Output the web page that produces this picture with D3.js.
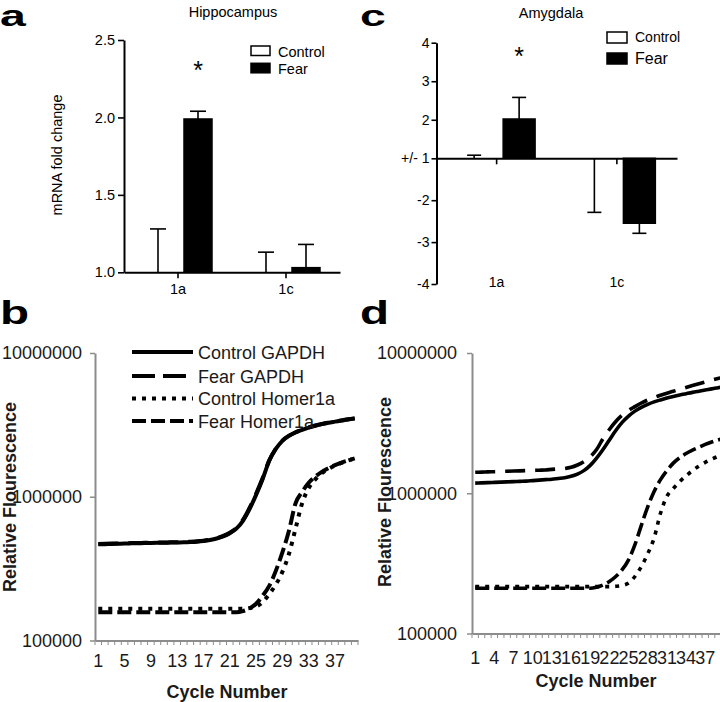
<!DOCTYPE html>
<html><head><meta charset="utf-8">
<script src="https://cdn.jsdelivr.net/npm/d3@7/dist/d3.min.js"></script>
<style>
body{margin:0;background:#fff}
svg{display:block;font-family:"Liberation Sans",Arial,Helvetica,sans-serif}
</style>
</head><body>
<svg id="chart" width="720" height="702"></svg>
<script>
// ---------------- DATA ----------------
const barCategories = ["1a", "1c"];
const barSeries = ["Control", "Fear"];

// a: Hippocampus (mRNA fold change)
const hippControl = [1.00, 1.00];
const hippControlErr = [0.28, 0.13];
const hippFear = [1.99, 1.03];
const hippFearErr = [0.05, 0.15];
const hippTicks = [1.0, 1.5, 2.0, 2.5];

// c: Amygdala (+/- fold change)
const amygControl = [1.00, -1.00];
const amygControlErr = [0.08, 1.29];
const amygFear = [2.02, -2.55];
const amygFearErr = [0.56, 0.24];
const amygTicks = [4, 3, 2, 1, -2, -3, -4];
const amygTickLabels = ["4", "3", "2", "+/- 1", "-2", "-3", "-4"];

// b, d: amplification curves (relative fluorescence, in thousands)
const cycles = [1,2,3,4,5,6,7,8,9,10,11,12,13,14,15,16,17,18,19,20,21,22,23,24,25,26,27,28,29,30,31,32,33,34,35,36,37,38,39,40];
const cycleTicksB = [1, 5, 9, 13, 17, 21, 25, 29, 33, 37];
const cycleTicksD = [1, 4, 7, 10, 13, 16, 19, 22, 25, 28, 31, 34, 37];
const fluorTicks = [100000, 1000000, 10000000];
const curveNames = ["Control GAPDH", "Fear GAPDH", "Control Homer1a", "Fear Homer1a"];

const hipCtrlGAPDH = [467,468,470,471,472,474,475,476,477,478,479,480,481,482,484,487,492,500,512,530,558,600,680,820,1030,1330,1780,2150,2450,2650,2800,2920,3030,3120,3200,3270,3330,3390,3450,3500];
const hipFearGAPDH = [470,471,472,473,474,476,477,478,479,480,481,482,483,485,487,490,495,503,515,534,562,605,690,835,1050,1350,1790,2160,2460,2660,2810,2930,3040,3130,3210,3280,3340,3400,3460,3510];
const hipCtrlHomer = [166,166,166,166,166,166,166,166,166,166,166,166,166,166,166,166,166,166,166,166,166,166,166,168,172,185,210,245,300,400,600,900,1150,1320,1460,1560,1650,1720,1790,1850];
const hipFearHomer = [157,157,157,157,157,157,157,157,157,157,157,157,157,157,157,157,157,157,157,157,157,157,160,167,180,205,240,305,410,580,900,1080,1250,1380,1490,1580,1660,1730,1790,1850];

const amyCtrlGAPDH = [1180,1185,1190,1195,1200,1205,1210,1215,1220,1230,1240,1250,1260,1275,1290,1320,1370,1450,1580,1780,2050,2400,2800,3200,3550,3850,4100,4300,4480,4630,4770,4900,5020,5130,5240,5340,5440,5550,5650,5750];
const amyFearGAPDH = [1410,1415,1420,1425,1430,1435,1440,1445,1450,1455,1460,1465,1480,1490,1500,1530,1590,1680,1820,2050,2450,2850,3250,3600,3900,4150,4400,4620,4820,5000,5170,5330,5500,5680,5860,6040,6220,6400,6580,6750];
const amyCtrlHomer = [216,216,216,216,216,216,216,216,216,216,216,216,216,216,216,216,216,216,216,216,216,216,217,220,229,255,300,370,480,720,950,1080,1210,1330,1450,1560,1660,1750,1830,1900];
const amyFearHomer = [210,210,210,210,210,210,210,210,210,210,210,210,210,210,210,210,210,210,210,214,222,235,255,285,335,430,590,800,1030,1250,1450,1640,1790,1920,2030,2130,2230,2320,2400,2480];

// ---------------- DRAWING ----------------
const svg = d3.select("#chart");
svg.append("rect").attr("width", 720).attr("height", 702).attr("fill", "#fff");

function panelLabel(txt, x, y, size, sx) {
  svg.append("text").attr("transform", `translate(${x},${y}) scale(${sx},1)`)
    .attr("font-size", size).attr("font-weight", "bold").attr("fill", "#000").text(txt);
}
panelLabel("a", 0, 26, 29, 1.6);
panelLabel("c", 360, 26, 29, 1.6);
panelLabel("b", 0, 324, 34, 1.4);
panelLabel("d", 360, 324, 34, 1.4);

// ----- Panel a -----
(function () {
  const g = svg.append("g");
  const fs = 14.5;
  const x0 = d3.scaleBand().domain(barCategories).range([124, 340]);
  const x1 = d3.scaleBand().domain(barSeries).range([-40, 40]).paddingInner(0.3).paddingOuter(0.15);
  const y = d3.scaleLinear().domain([1, 2.5]).range([272.3, 40]);
  const cx = (c, s) => x0(c) + x0.bandwidth() / 2 + x1(s);
  const vals = { Control: hippControl, Fear: hippFear };
  const errs = { Control: hippControlErr, Fear: hippFearErr };

  barSeries.forEach(s => {
    barCategories.forEach((c, i) => {
      const v = vals[s][i];
      g.append("rect").attr("x", cx(c, s)).attr("width", x1.bandwidth())
        .attr("y", y(v)).attr("height", Math.max(0, y(1) - y(v)))
        .attr("fill", s === "Fear" ? "#000" : "#fff").attr("stroke", "#000").attr("stroke-width", 1.5);
      const xm = cx(c, s) + x1.bandwidth() / 2;
      const top = v + errs[s][i];
      g.append("line").attr("x1", xm).attr("x2", xm).attr("y1", y(v)).attr("y2", y(top))
        .attr("stroke", "#000").attr("stroke-width", 1.6);
      g.append("line").attr("x1", xm - 8).attr("x2", xm + 8).attr("y1", y(top)).attr("y2", y(top))
        .attr("stroke", "#000").attr("stroke-width", 1.6);
    });
  });

  const ya = g.append("g").attr("transform", "translate(124,0)")
    .call(d3.axisLeft(y).tickValues(hippTicks).tickFormat(d3.format(".1f")).tickSize(6).tickSizeOuter(0).tickPadding(3));
  const xa = g.append("g").attr("transform", `translate(0,${y(1)})`)
    .call(d3.axisBottom(x0).tickSize(6).tickSizeOuter(0).tickPadding(5));
  [ya, xa].forEach(a => {
    a.select(".domain").attr("stroke", "#000").attr("stroke-width", 2);
    a.selectAll(".tick line").attr("stroke", "#000").attr("stroke-width", 1.6);
    a.selectAll("text").attr("font-size", fs).attr("fill", "#000").attr("font-family", null);
  });

  g.append("text").attr("x", 233).attr("y", 17).attr("text-anchor", "middle").attr("font-size", fs).text("Hippocampus");
  g.append("text").attr("transform", "translate(62,155) rotate(-90)").attr("text-anchor", "middle")
    .attr("font-size", fs).text("mRNA fold change");
  g.append("text").attr("x", cx("1a", "Fear") + x1.bandwidth() / 2).attr("y", 79).attr("text-anchor", "middle")
    .attr("font-size", 25).text("*");

  const lg = [["Control", "#fff", 46, 56.7], ["Fear", "#000", 63.3, 74]];
  lg.forEach(([t, f, by, ty]) => {
    g.append("rect").attr("x", 251).attr("y", by).attr("width", 19).attr("height", 9.5)
      .attr("fill", f).attr("stroke", "#000").attr("stroke-width", 1.5);
    g.append("text").attr("x", 278).attr("y", ty).attr("font-size", fs).text(t);
  });
})();

// ----- Panel c -----
(function () {
  const g = svg.append("g");
  const fs = 14;
  const fc = v => (v >= 1 ? v - 1 : v + 1); // +/- fold change to linear position
  const x0 = d3.scaleBand().domain(barCategories).range([436.5, 677]);
  const x1 = d3.scaleBand().domain(barSeries).range([-45, 45]).paddingInner(0.29).paddingOuter(0.145);
  const y = d3.scaleLinear().domain([-3, 0, 3]).range([284, 158.3, 42.7]);
  const cx = (c, s) => x0(c) + x0.bandwidth() / 2 + x1(s);
  const vals = { Control: amygControl, Fear: amygFear };
  const errs = { Control: amygControlErr, Fear: amygFearErr };

  barSeries.forEach(s => {
    barCategories.forEach((c, i) => {
      const v = vals[s][i];
      const p = fc(v);
      g.append("rect").attr("x", cx(c, s)).attr("width", x1.bandwidth())
        .attr("y", Math.min(y(p), y(0))).attr("height", Math.abs(y(p) - y(0)))
        .attr("fill", s === "Fear" ? "#000" : "#fff").attr("stroke", "#000").attr("stroke-width", 1.5);
      const xm = cx(c, s) + x1.bandwidth() / 2;
      const end = v > 0 ? v + errs[s][i] : v - errs[s][i];
      g.append("line").attr("x1", xm).attr("x2", xm).attr("y1", y(p)).attr("y2", y(fc(end)))
        .attr("stroke", "#000").attr("stroke-width", 1.6);
      g.append("line").attr("x1", xm - 7).attr("x2", xm + 7).attr("y1", y(fc(end))).attr("y2", y(fc(end)))
        .attr("stroke", "#000").attr("stroke-width", 1.6);
    });
  });

  const ya = g.append("g").attr("transform", "translate(436.5,0)")
    .call(d3.axisLeft(y).tickValues(amygTicks.map(fc)).tickFormat((d, i) => amygTickLabels[i])
      .tickSize(5).tickSizeOuter(0).tickPadding(2));
  ya.select(".domain").attr("stroke", "#000").attr("stroke-width", 2);
  ya.selectAll(".tick line").attr("stroke", "#000").attr("stroke-width", 1.6);
  ya.selectAll("text").attr("font-size", fs).attr("fill", "#000").attr("font-family", null);

  const xa = g.append("g").attr("transform", `translate(0,${y(0)})`)
    .call(d3.axisBottom(x0).tickSize(6).tickSizeOuter(0).tickFormat(""));
  xa.select(".domain").attr("stroke", "#000").attr("stroke-width", 2);
  xa.selectAll(".tick line").attr("stroke", "#000").attr("stroke-width", 1.6);
  barCategories.forEach(c => {
    g.append("text").attr("x", x0(c) + x0.bandwidth() / 2).attr("y", 287).attr("text-anchor", "middle")
      .attr("font-size", fs).text(c);
  });

  g.append("text").attr("x", 551).attr("y", 18).attr("text-anchor", "middle").attr("font-size", 14.5).text("Amygdala");
  g.append("text").attr("x", cx("1a", "Fear") + x1.bandwidth() / 2).attr("y", 65).attr("text-anchor", "middle")
    .attr("font-size", 25).text("*");

  const lg = [["Control", "#fff", 32, 42, 14], ["Fear", "#000", 53, 63.5, 16]];
  lg.forEach(([t, f, by, ty, s]) => {
    g.append("rect").attr("x", 607).attr("y", by).attr("width", 20).attr("height", 11)
      .attr("fill", f).attr("stroke", "#000").attr("stroke-width", 1.5);
    g.append("text").attr("x", 635).attr("y", ty).attr("font-size", s).text(t);
  });
})();

// ----- Curve panels b, d -----
const curveStyles = {
  "Control GAPDH": null,
  "Fear GAPDH": "20,10",
  "Control Homer1a": "4,6",
  "Fear Homer1a": "14,5"
};

function curvePanel(opt) {
  const g = svg.append("g");
  const fs = 18, txt = "#1a1a1a", axisCol = "#8c8c8c";
  const x = d3.scaleBand().domain(cycles).range([opt.x0, opt.x0 + cycles.length * opt.step]);
  const y = d3.scaleLog().domain([1e5, 1e7]).range([opt.yBot, 353]);
  const bw = x.bandwidth();

  const line = d3.line().x((v, i) => x(cycles[i]) + bw / 2).y(v => y(v * 1000)).curve(d3.curveMonotoneX);
  opt.series.forEach((arr, k) => {
    const name = curveNames[k];
    g.append("path").attr("d", line(arr)).attr("fill", "none").attr("stroke", "#000")
      .attr("stroke-width", opt.lw).attr("stroke-dasharray", curveStyles[name]);
  });

  const ya = g.append("g").attr("transform", `translate(${opt.x0},0)`)
    .call(d3.axisLeft(y).tickValues(fluorTicks).tickFormat(d3.format("d")).tickSize(5).tickSizeOuter(0).tickPadding(opt.yPad));
  const xa = g.append("g").attr("transform", `translate(0,${opt.yBot})`)
    .call(d3.axisBottom(x).tickValues(opt.xTicks).tickSize(0).tickSizeOuter(0).tickPadding(opt.xPad));
  [ya, xa].forEach(a => {
    a.select(".domain").attr("stroke", axisCol).attr("stroke-width", 2);
    a.selectAll(".tick line").attr("stroke", axisCol).attr("stroke-width", 1.5);
    a.selectAll("text").attr("font-size", fs).attr("fill", txt).attr("font-family", null);
  });
  const edges = cycles.map(c => x(c)).concat([x(cycles[cycles.length - 1]) + bw]);
  g.selectAll(null).data(edges).enter().append("line")
    .attr("x1", d => d).attr("x2", d => d).attr("y1", opt.yBot).attr("y2", opt.yBot + 4.5)
    .attr("stroke", axisCol).attr("stroke-width", 1);

  g.append("text").attr("x", opt.xLabelX).attr("y", opt.xLabelY).attr("text-anchor", "middle")
    .attr("font-size", fs).attr("font-weight", "bold").attr("fill", txt).text("Cycle Number");
  g.append("text").attr("transform", `translate(${opt.yLabelX},${opt.yLabelY}) rotate(-90)`)
    .attr("text-anchor", "middle").attr("font-size", fs).attr("font-weight", "bold").attr("fill", txt)
    .text("Relative Flourescence");

  if (opt.legend) {
    const ly = [352, 376, 398.5, 421];
    curveNames.forEach((n, i) => {
      g.append("line").attr("x1", 132).attr("x2", 193).attr("y1", ly[i]).attr("y2", ly[i])
        .attr("stroke", "#000").attr("stroke-width", 4).attr("stroke-dasharray", n === "Fear GAPDH" ? "23,8" : curveStyles[n]);
      g.append("text").attr("x", 198).attr("y", ly[i] + 6.5).attr("font-size", fs).attr("fill", txt).text(n);
    });
  }
}

curvePanel({
  x0: 95, step: 6.575, yBot: 640.5, lw: 4,
  series: [hipCtrlGAPDH, hipFearGAPDH, hipCtrlHomer, hipFearHomer],
  xTicks: cycleTicksB, xPad: 14, yPad: 8,
  xLabelX: 227, xLabelY: 698, yLabelX: 15.5, yLabelY: 497, legend: true
});
curvePanel({
  x0: 472, step: 6.39, yBot: 633.5, lw: 3.6,
  series: [amyCtrlGAPDH, amyFearGAPDH, amyCtrlHomer, amyFearHomer],
  xTicks: cycleTicksD, xPad: 18, yPad: 10,
  xLabelX: 596, xLabelY: 687, yLabelX: 391, yLabelY: 492, legend: false
});
</script>
</body></html>
